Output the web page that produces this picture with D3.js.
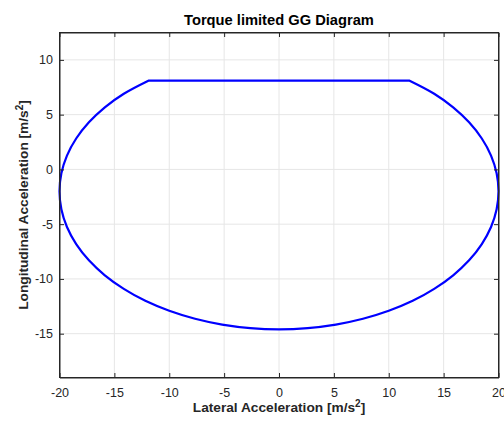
<!DOCTYPE html>
<html>
<head>
<meta charset="utf-8">
<script src="https://cdn.jsdelivr.net/npm/d3@7"></script>
<style>
  html, body { margin: 0; padding: 0; background: #fff; }
  svg { display: block; font-family: "Liberation Sans", Arial, Helvetica, sans-serif; }
</style>
</head>
<body>
<svg id="chart" width="504" height="423"></svg>
<script>
// Friction-ellipse boundary, traced clockwise from the right end of the
// torque-limited flat top, down around the braking side, up to the left end.
const lateral = [
  11.90, 14.14, 15.87, 17.32, 18.48, 19.32, 19.83, 20.00,
  19.83, 19.32, 18.48, 17.32, 15.87, 14.14, 12.18, 10.00, 7.65, 5.18, 2.61, 0.00,
  -2.61, -5.18, -7.65, -10.00, -12.18, -14.14, -15.87, -17.32, -18.48, -19.32, -19.83,
  -20.00, -19.83, -19.32, -18.48, -17.32, -15.87, -14.14, -11.90
];
const longitudinal = [
  8.10, 6.91, 5.67, 4.30, 2.82, 1.26, -0.36, -2.00,
  -3.64, -5.26, -6.82, -8.30, -9.67, -10.91, -12.00, -12.91, -13.64, -14.17, -14.49, -14.60,
  -14.49, -14.17, -13.64, -12.91, -12.00, -10.91, -9.67, -8.30, -6.82, -5.26, -3.64,
  -2.00, -0.36, 1.26, 2.82, 4.30, 5.67, 6.91, 8.10
];

const xTicks = [-20, -15, -10, -5, 0, 5, 10, 15, 20];
const yTicks = [-15, -10, -5, 0, 5, 10];
const xDomain = [-20, 20];
const yDomain = [-19, 12.5];

const titleText = "Torque limited GG Diagram";

const svg = d3.select("#chart");
const box = { left: 59.5, right: 498.5, top: 32.5, bottom: 377.5 };

const x = d3.scaleLinear().domain(xDomain).range([box.left, box.right]);
const y = d3.scaleLinear().domain(yDomain).range([box.bottom, box.top]);

const axisColor = "#262626";
const gridColor = "#e6e6e6";
const tickLen = 4.5;
const fmt = d => String(d);

// grid
const grid = svg.append("g");
grid.selectAll("line.gx").data(xTicks).join("line")
  .attr("x1", d => x(d)).attr("x2", d => x(d))
  .attr("y1", box.top).attr("y2", box.bottom)
  .attr("stroke", gridColor).attr("stroke-width", 1);
grid.selectAll("line.gy").data(yTicks).join("line")
  .attr("x1", box.left).attr("x2", box.right)
  .attr("y1", d => y(d)).attr("y2", d => y(d))
  .attr("stroke", gridColor).attr("stroke-width", 1);

// boundary curve: smooth ellipse arc, closed by the straight torque limit
const pts = lateral.map((v, i) => [v, longitudinal[i]]);
const line = d3.line()
  .x(d => x(d[0])).y(d => y(d[1]))
  .curve(d3.curveCatmullRom.alpha(0.5));
svg.append("path")
  .attr("d", line(pts) + "Z")
  .attr("fill", "none")
  .attr("stroke", "#0000ff")
  .attr("stroke-width", 2.2)
  .attr("stroke-linejoin", "round");

// axes (bottom/left with labels, top/right as box with inward ticks)
const xAxis = d3.axisBottom(x).tickValues(xTicks).tickFormat(fmt)
  .tickSizeInner(-tickLen).tickSizeOuter(0).tickPadding(10.5);
const yAxis = d3.axisLeft(y).tickValues(yTicks).tickFormat(fmt)
  .tickSizeInner(-tickLen).tickSizeOuter(0).tickPadding(6.5);

function styleAxis(g) {
  g.select(".domain").attr("stroke", axisColor).attr("stroke-width", 1);
  g.selectAll(".tick line").attr("stroke", axisColor);
  g.selectAll(".tick text").attr("fill", axisColor)
    .style("font-size", "12.5px")
    .style("font-family", "'Liberation Sans', Arial, sans-serif");
}

svg.append("g").attr("transform", `translate(0,${box.bottom})`).call(xAxis).call(styleAxis);
svg.append("g").attr("transform", `translate(${box.left},0)`).call(yAxis).call(styleAxis);
svg.append("g").attr("transform", `translate(0,${box.top})`)
  .call(d3.axisTop(x).tickValues(xTicks).tickSizeInner(-tickLen).tickSizeOuter(0).tickFormat(""))
  .call(styleAxis);
svg.append("g").attr("transform", `translate(${box.right},0)`)
  .call(d3.axisRight(y).tickValues(yTicks).tickSizeInner(-tickLen).tickSizeOuter(0).tickFormat(""))
  .call(styleAxis);
svg.append("rect")
  .attr("x", box.left).attr("y", box.top)
  .attr("width", box.right - box.left).attr("height", box.bottom - box.top)
  .attr("fill", "none").attr("stroke", axisColor).attr("stroke-width", 1);

// title
svg.append("text")
  .attr("x", (box.left + box.right) / 2).attr("y", 25)
  .attr("text-anchor", "middle")
  .style("font-size", "14.7px").style("font-weight", "bold")
  .attr("fill", "#000")
  .text(titleText);

// x label
const xl = svg.append("text")
  .attr("x", (box.left + box.right) / 2).attr("y", 412)
  .attr("text-anchor", "middle")
  .style("font-size", "13.7px").style("font-weight", "bold")
  .attr("fill", axisColor);
xl.append("tspan").text("Lateral Acceleration [m/s");
xl.append("tspan").attr("dy", -5.5).style("font-size", "10px").text("2");
xl.append("tspan").attr("dy", 5.5).text("]");

// y label
const yl = svg.append("text")
  .attr("transform", `translate(28,${(box.top + box.bottom) / 2}) rotate(-90)`)
  .attr("text-anchor", "middle")
  .style("font-size", "13.7px").style("font-weight", "bold")
  .attr("fill", axisColor);
yl.append("tspan").text("Longitudinal Acceleration [m/s");
yl.append("tspan").attr("dy", -5.5).style("font-size", "10px").text("2");
yl.append("tspan").attr("dy", 5.5).text("]");
</script>
</body>
</html>
